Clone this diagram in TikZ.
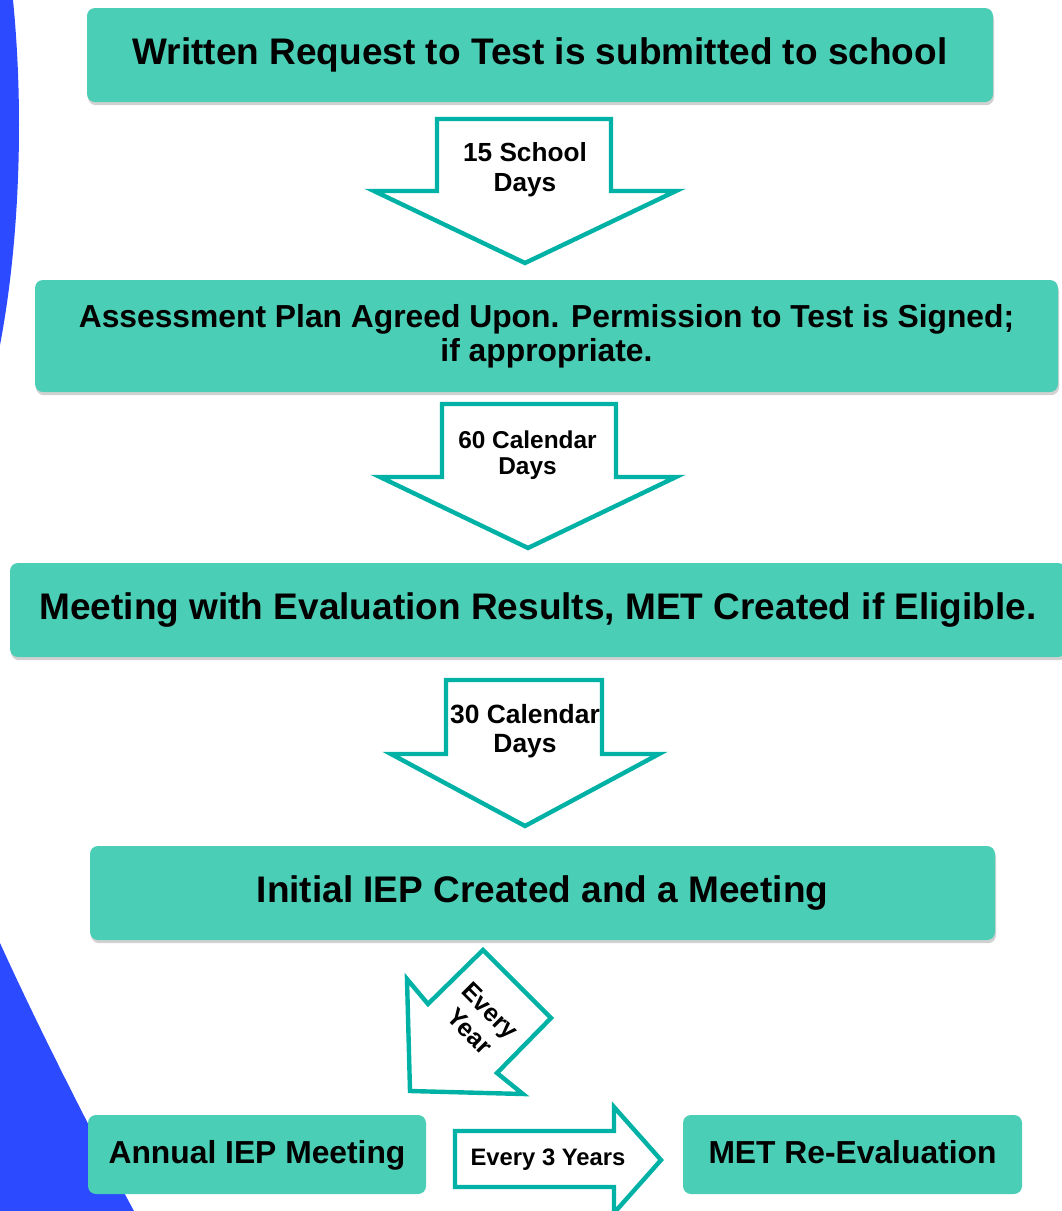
\documentclass[tikz,border=0pt]{standalone}
\usepackage{fontspec}
\setmainfont{Liberation Sans}
\usepackage{tikz}
\usetikzlibrary{shadows}

\definecolor{sideblue}{RGB}{44,74,255}
\definecolor{stagefill}{RGB}{74,206,181}
\definecolor{arrowline}{RGB}{0,178,165}

\begin{document}
\begin{tikzpicture}[
  x=0.5pt, y=-0.5pt,
  stage/.style={fill=stagefill, rounded corners=4pt, inner sep=0pt, align=center,
    font=\bfseries\fontsize{18.5}{22}\selectfont},
  small stage/.style={stage, minimum height=39.5pt, text height=0.95em, text depth=0.09em,
    font=\bfseries\fontsize{15.9}{18}\selectfont},
  lifted/.style={drop shadow={shadow xshift=0.5pt, shadow yshift=-1.6pt, fill=black, opacity=0.18}},
  blockarrow/.style={draw=arrowline, fill=white, line width=2.2pt, line join=miter},
  gap/.style={inner sep=0pt, align=center, font=\bfseries\fontsize{12.8}{15}\selectfont}
]
  \useasboundingbox (0,0) rectangle (1061,1211);

  % blue side bands
  \fill[sideblue] (0,0) -- (13,0) .. controls (24,110) and (20,240) .. (0,345) -- cycle;
  \fill[sideblue] (0,943) .. controls (35,1020) and (85,1120) .. (135,1213) -- (0,1213) -- cycle;

  % Steps
  \node[stage, lifted, minimum width=453pt, minimum height=47pt] (request) at (540,55)
    {Written Request to Test is submitted to school};
  \node[stage, lifted, minimum width=511.5pt, minimum height=56pt,
    font=\bfseries\fontsize{15.9}{17}\selectfont] (plan) at (546.5,336)
    {Assessment Plan Agreed Upon. Permission to Test is Signed;\\if appropriate.};
  \node[stage, lifted, minimum width=528pt, minimum height=47pt] (results) at (538,610)
    {Meeting with Evaluation Results, MET Created if Eligible.};
  \node[stage, lifted, minimum width=452.5pt, minimum height=47pt] (iep) at (542.5,893)
    {Initial IEP Created and a Meeting};
  \node[small stage, minimum width=169pt] (annual) at (257,1154.5) {Annual IEP Meeting};
  \node[small stage, minimum width=169.5pt] (reeval) at (852.5,1154.5) {MET Re-Evaluation};

  % 15 school days
  \draw[blockarrow] (437,119) -- (611,119) -- (611,191) -- (676,191) -- (525,263)
    -- (374,191) -- (437,191) -- cycle;
  \node[gap, font=\bfseries\fontsize{13.1}{15}\selectfont] (d15) at (525,170) {15 School\\Days};

  % 60 calendar days
  \draw[blockarrow] (442,404) -- (616,404) -- (616,477) -- (676,477) -- (528,548)
    -- (380,477) -- (442,477) -- cycle;
  \node[gap, font=\bfseries\fontsize{12.2}{13}\selectfont] (d60) at (527.5,455) {60 Calendar\\Days};

  % 30 calendar days
  \draw[blockarrow] (446,680) -- (602,680) -- (602,754) -- (659,754) -- (525,826)
    -- (391,754) -- (446,754) -- cycle;
  \node[gap, font=\bfseries\fontsize{13.2}{14.5}\selectfont] (d30) at (525,731) {30 Calendar\\Days};

  % every year
  \draw[blockarrow] (483,950) -- (551,1018) -- (497,1073) -- (523,1094) -- (410,1091)
    -- (407,979) -- (428,1004) -- cycle;
  \node[gap, rotate=-45, font=\bfseries\fontsize{12.5}{14.5}\selectfont] (yearly) at (480,1021) {Every\\Year};

  % every 3 years
  \draw[blockarrow] (455,1131) -- (614,1131) -- (614,1107) -- (661,1160) -- (614,1213)
    -- (614,1187) -- (455,1187) -- cycle;
  \node[gap, font=\bfseries\fontsize{11.9}{14}\selectfont] (d3y) at (548,1160) {Every 3 Years};
\end{tikzpicture}
\end{document}
